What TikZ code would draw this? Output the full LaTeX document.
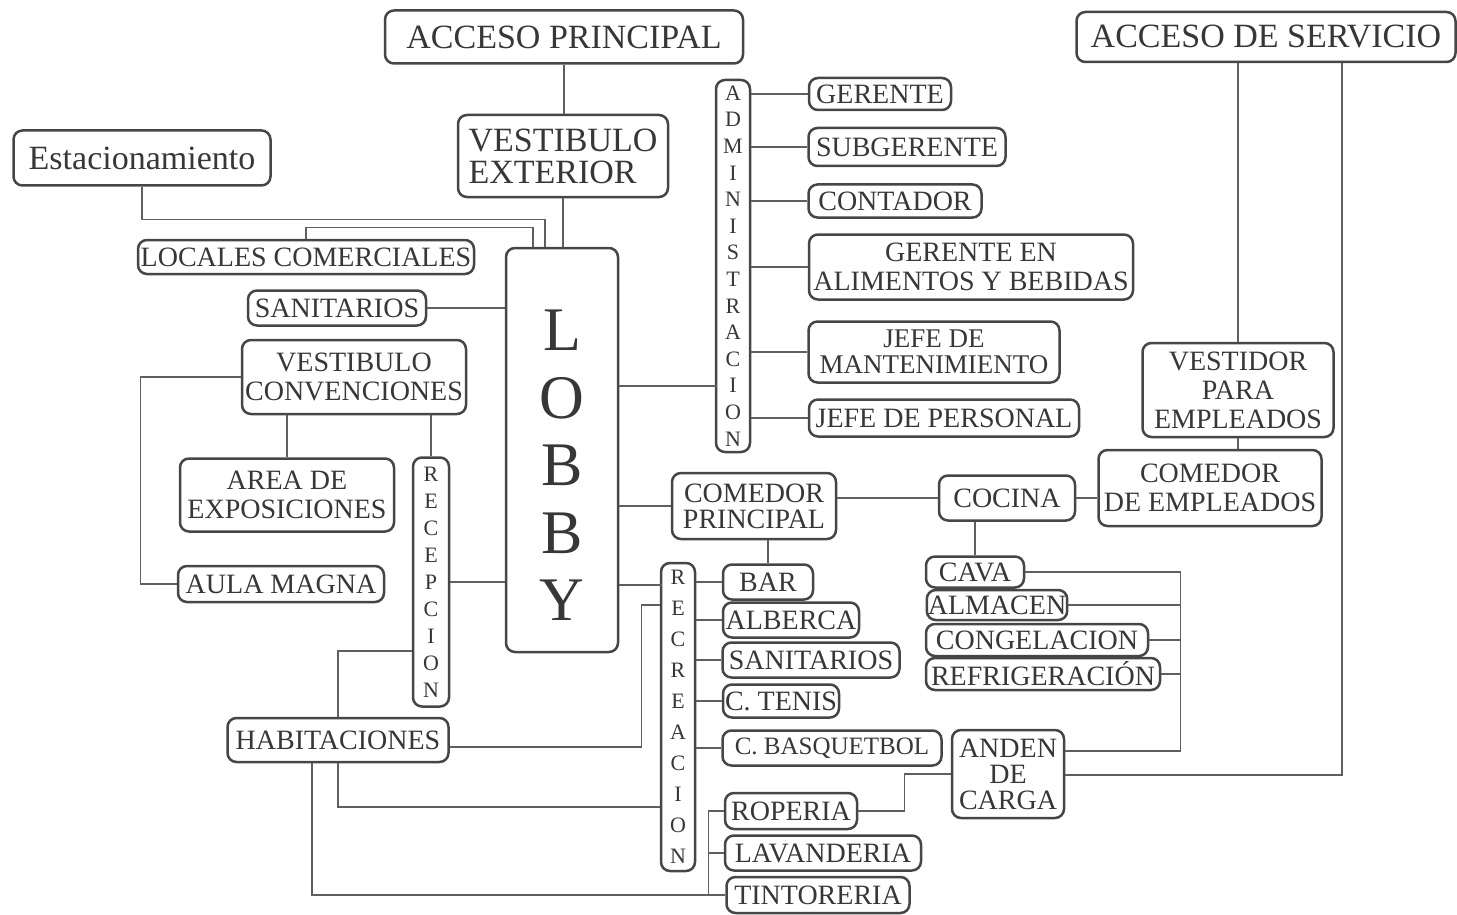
\documentclass[tikz,border=0pt]{standalone}
\usepackage{fontspec}
\setmainfont{Liberation Serif}
\definecolor{grisBorde}{RGB}{70,70,70}
\definecolor{grisTexto}{RGB}{55,55,55}
\definecolor{grisLinea}{RGB}{95,95,95}
\tikzset{
  caja/.style={draw=grisBorde, line width=2.5pt, rounded corners=9pt, fill=white,
    text=grisTexto, inner sep=1pt, align=center},
  tam/.style 2 args={minimum width=#1pt, minimum height=#2pt},
  letraG/.style={font=\fontsize{34}{32}\selectfont},
  letraM/.style={font=\fontsize{28}{29}\selectfont},
  letraV/.style={font=\fontsize{22}{#1}\selectfont},
  enlace/.style={draw=grisLinea, line width=1.2pt},
}
\begin{document}
\begin{tikzpicture}[x=1pt, y=-1pt]
  \useasboundingbox (0,0) rectangle (1457,915);
  % Accesos y vestibulo exterior
  \node[caja, letraG, tam={358}{53}] (accPrin) at (564,37) {ACCESO PRINCIPAL};
  \node[caja, letraG, tam={379}{50}] (accServ) at (1266,37) {ACCESO DE SERVICIO};
  \node[caja, letraG, tam={257}{55}] (estac) at (142,158) {Estacionamiento};
  \node[caja, letraG, tam={210}{82}, align=left] (vestExt) at (563,156)
    {VESTIBULO\\EXTERIOR};
  % Lobby
  \node[caja, tam={112}{404}, font=\fontsize{62}{67.5}\selectfont] (lobby) at (562,450)
    {\rule{0pt}{71pt}L\\O\\B\\B\\Y};
  % Lado izquierdo
  \node[caja, letraM, tam={336}{34}] (locales) at (306,257) {LOCALES COMERCIALES};
  \node[caja, letraM, tam={178}{35}] (sanIzq) at (337,308) {SANITARIOS};
  \node[caja, letraM, tam={224}{74}] (vestConv) at (354,377) {VESTIBULO\\CONVENCIONES};
  \node[caja, letraM, tam={214}{73}] (areaExp) at (287,495) {AREA DE\\EXPOSICIONES};
  \node[caja, letraM, tam={206}{36}] (aula) at (281,584) {AULA MAGNA};
  \node[caja, letraV=27, tam={36}{249}] (recep) at (431,582)
    {R\\E\\C\\E\\P\\C\\I\\O\\N};
  \node[caja, letraM, tam={221}{44}] (habit) at (338,740) {HABITACIONES};
  % Administracion
  \node[caja, letraV=26.6, tam={34}{372}] (admin) at (733,266)
    {A\\D\\M\\I\\N\\I\\S\\T\\R\\A\\C\\I\\O\\N};
  \node[caja, letraM, tam={142}{32}] (gerente) at (880,94) {GERENTE};
  \node[caja, letraM, tam={197}{38}] (subger) at (907,147) {SUBGERENTE};
  \node[caja, letraM, tam={173}{33}] (contador) at (895,201) {CONTADOR};
  \node[caja, letraM, tam={324}{65}] (gerAyB) at (971,267) {GERENTE EN\\ALIMENTOS Y BEBIDAS};
  \node[caja, tam={251}{61}, font=\fontsize{27}{26}\selectfont] (jefeMant) at (934,352)
    {JEFE DE\\MANTENIMIENTO};
  \node[caja, letraM, tam={270}{37}] (jefePers) at (944,418) {JEFE DE PERSONAL};
  % Servicio
  \node[caja, letraM, tam={191}{94}] (vestidor) at (1238,390) {VESTIDOR\\PARA\\EMPLEADOS};
  \node[caja, letraM, tam={223}{76}] (comEmp) at (1210,488) {COMEDOR\\DE EMPLEADOS};
  \node[caja, letraM, tam={136}{45}] (cocina) at (1007,498) {COCINA};
  \node[caja, letraM, tam={164}{66}, font=\fontsize{28}{26}\selectfont] (comPrin) at (754,506)
    {COMEDOR\\PRINCIPAL};
  \node[caja, letraM, tam={98}{31}] (cava) at (975,572) {CAVA};
  \node[caja, letraM, tam={138}{30}] (almacen) at (997,605) {ALMACEN};
  \node[caja, letraM, tam={222}{32}] (congel) at (1037,640) {CONGELACION};
  \node[caja, letraM, tam={234}{32}] (refrig) at (1043,674) {REFRIGERACIÓN};
  \node[caja, letraM, tam={112}{88}, font=\fontsize{28}{26}\selectfont] (anden) at (1008,774)
    {ANDEN\\DE\\CARGA};
  % Recreacion
  \node[caja, letraV=31, tam={34}{308}] (recrea) at (678,717)
    {R\\E\\C\\R\\E\\A\\C\\I\\O\\N};
  \node[caja, letraM, tam={90}{35}] (bar) at (768,582) {BAR};
  \node[caja, letraM, tam={136}{35}] (alberca) at (791,620) {ALBERCA};
  \node[caja, letraM, tam={177}{35}] (sanDer) at (811,660) {SANITARIOS};
  \node[caja, letraM, tam={116}{33}] (tenis) at (781,701) {C. TENIS};
  \node[caja, tam={219}{35}, font=\fontsize{25}{29}\selectfont] (basq) at (832,748)
    {C. BASQUETBOL};
  \node[caja, letraM, tam={132}{36}] (roperia) at (791,811) {ROPERIA};
  \node[caja, letraM, tam={196}{35}] (lavand) at (823,853) {LAVANDERIA};
  \node[caja, letraM, tam={183}{36}] (tintor) at (818,895) {TINTORERIA};

  % Conexiones del lobby
  \draw[enlace] (accPrin.south) -- (accPrin.south |- vestExt.north);
  \draw[enlace] (vestExt.south) -- (vestExt.south |- lobby.north);
  \draw[enlace] (estac.south) -- ++(0,33) -| ([xshift=-17pt]lobby.north);
  \draw[enlace] (locales.north) -- ++(0,-11) -| ([xshift=-29pt]lobby.north);
  \draw[enlace] (sanIzq.east) -- (sanIzq.east -| lobby.west);
  \draw[enlace] (recep.east) -- (recep.east -| lobby.west);
  \draw[enlace] ([yshift=64pt]lobby.east) -- ++(98,0);
  \draw[enlace] (comPrin.west) -- (comPrin.west -| lobby.east);
  \draw[enlace] ([yshift=-135pt]lobby.east) -- ++(43,0);
  % Convenciones
  \draw[enlace] (vestConv.west) -- ++(-100,0) |- (aula.west);
  \draw[enlace] (areaExp.north) -- (areaExp.north |- vestConv.south);
  \draw[enlace] (recep.north) -- (recep.north |- vestConv.south);
  % Habitaciones
  \draw[enlace] ([yshift=-69pt]recep.west) -| (habit.north);
  \draw[enlace] ([yshift=-7pt]habit.east) -- ++(192,0) |- ([yshift=112pt]recrea.west);
  \draw[enlace] (habit.south) |- ([yshift=-90pt]recrea.west);
  \draw[enlace] ([xshift=-26pt]habit.south) |- (tintor.west);
  \draw[enlace] ([xshift=-17pt]tintor.west) |- (roperia.west);
  \draw[enlace] (lavand.west) -- ++(-15,0);
  \draw[enlace] (roperia.east) -- ++(46,0) |- (anden.west);
  % Administracion
  \foreach \n in {gerente,subger,contador,gerAyB,jefeMant,jefePers}
    \draw[enlace] (\n.west) -- (\n.west -| admin.east);
  % Recreacion y comedor
  \foreach \n in {bar,alberca,sanDer,tenis,basq}
    \draw[enlace] (\n.west) -- (\n.west -| recrea.east);
  \draw[enlace] (bar.north) -- (bar.north |- comPrin.south);
  \draw[enlace] (cocina.west) -- (cocina.west -| comPrin.east);
  \draw[enlace] (cocina.east) -- (cocina.east -| comEmp.west);
  \draw[enlace] (cava.north) -- (cava.north |- cocina.south);
  % Almacenes y anden
  \draw[enlace] (cava.east) -- ++(155,0) coordinate (cavaBus) |- ([yshift=23pt]anden.east);
  \foreach \n in {almacen,congel,refrig}
    \draw[enlace] (\n.east) -- (\n.east -| cavaBus);
  \draw[enlace] ([yshift=-1pt]anden.east) -| ([xshift=76pt]accServ.south);
  \draw[enlace] (vestidor.north) -- (vestidor.north |- accServ.south);
  \draw[enlace] (vestidor.south) -- (vestidor.south |- comEmp.north);
\end{tikzpicture}
\end{document}
